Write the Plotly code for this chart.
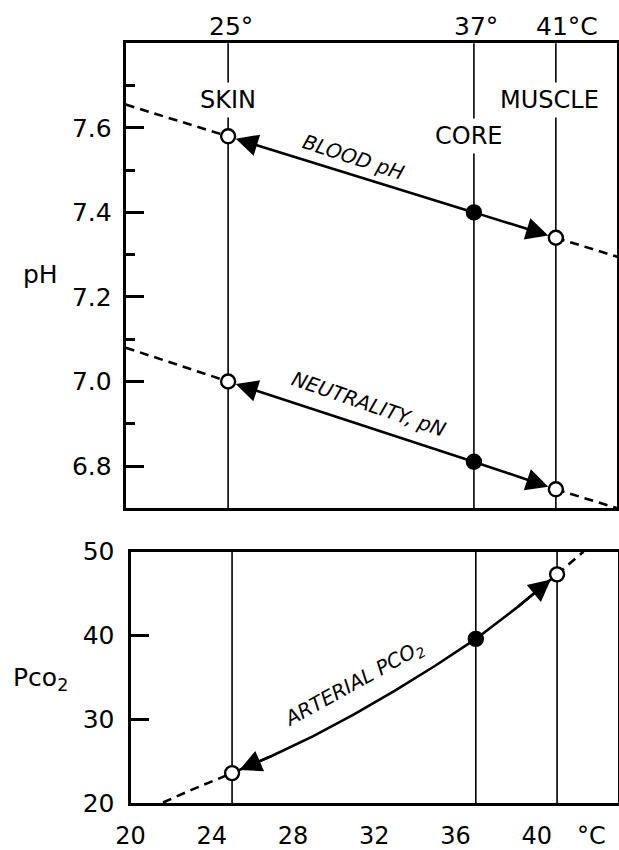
import plotly.graph_objects as go

# ---------------- data ----------------
site_names = ["SKIN", "CORE", "MUSCLE"]
site_temps = [25, 37, 41]
top_labels = ["25°", "37°", "41°C"]

# Blood pH
blood_t = [25, 37, 41]
blood_ph = [7.58, 7.40, 7.34]
blood_dash_left_t = [20, 25]
blood_dash_left = [7.655, 7.58]
blood_dash_right_t = [41, 44]
blood_dash_right = [7.34, 7.295]

# Neutrality pN
pn_t = [25, 37, 41]
pn = [7.00, 6.81, 6.745]
pn_dash_left_t = [20, 25]
pn_dash_left = [7.08, 7.00]
pn_dash_right_t = [41, 44]
pn_dash_right = [6.745, 6.70]

# Arterial PCO2
pco2_t = [25, 27, 29, 31, 33, 35, 37, 39, 41]
pco2 = [23.6, 25.7, 28.0, 30.6, 33.4, 36.4, 39.6, 43.3, 47.3]
pco2_dash_left_t = [21.6, 23, 25]
pco2_dash_left = [20.1, 21.6, 23.6]
pco2_dash_right_t = [41, 42.3]
pco2_dash_right = [47.3, 50.0]

x_ticks = [20, 24, 28, 32, 36, 40]
ph_ticks = [6.8, 7.0, 7.2, 7.4, 7.6]
ph_minor = [6.9, 7.1, 7.3, 7.5, 7.7]
pco2_ticks = [20, 30, 40, 50]

# ---------------- styles ----------------
FONT = "DejaVu Sans"
BLACK = "black"
LW = 2.6
DASH = "9px,6px"
marker_colors = ["white", "black", "white"]

fig = go.Figure()


def add_series(xs, ys, xa, ya, dash=None):
    fig.add_trace(go.Scatter(
        x=xs, y=ys, xaxis=xa, yaxis=ya, mode="lines",
        line=dict(color=BLACK, width=LW, dash=dash or "solid"),
        showlegend=False, hoverinfo="skip",
    ))


# top panel dashed extensions
add_series(blood_dash_left_t, blood_dash_left, "x", "y", dash=DASH)
add_series(blood_dash_right_t, blood_dash_right, "x", "y", dash=DASH)
add_series(pn_dash_left_t, pn_dash_left, "x", "y", dash=DASH)
add_series(pn_dash_right_t, pn_dash_right, "x", "y", dash=DASH)
# bottom panel dashed extensions + solid curve
add_series(pco2_dash_left_t, pco2_dash_left, "x2", "y2", dash=DASH)
add_series(pco2_dash_right_t, pco2_dash_right, "x2", "y2", dash=DASH)
add_series(pco2_t, pco2, "x2", "y2")

# markers (drawn last)
mk = dict(size=14, color=marker_colors, line=dict(color=BLACK, width=2.4))
for xs, ys in [(blood_t, blood_ph), (pn_t, pn)]:
    fig.add_trace(go.Scatter(x=xs, y=ys, xaxis="x", yaxis="y", mode="markers",
                             marker=mk, showlegend=False, hoverinfo="skip"))
pco2_site_vals = [pco2[pco2_t.index(t)] for t in site_temps]
fig.add_trace(go.Scatter(x=site_temps, y=pco2_site_vals, xaxis="x2", yaxis="y2", mode="markers",
                         marker=mk, showlegend=False, hoverinfo="skip"))

# vertical site lines
shapes = []
for t in site_temps:
    for xr, yr in [("x", "y domain"), ("x2", "y2 domain")]:
        shapes.append(dict(type="line", xref=xr, yref=yr, x0=t, x1=t, y0=0, y1=1,
                           line=dict(color=BLACK, width=1.6), layer="below"))

annotations = []


def arrow(xr, yr, hx, hy, tx, ty, standoff=8, startstandoff=0):
    annotations.append(dict(
        xref=xr, yref=yr, axref=xr, ayref=yr, x=hx, y=hy, ax=tx, ay=ty,
        text="", showarrow=True, arrowhead=2, arrowsize=1.7, arrowwidth=LW,
        arrowcolor=BLACK, standoff=standoff, startstandoff=startstandoff))


# straight arrows from core to skin and muscle
core_i = site_temps.index(37)
for ts, vs in [(blood_t, blood_ph), (pn_t, pn)]:
    for end in (0, 2):
        arrow("x", "y", ts[end], vs[end], ts[core_i], vs[core_i], standoff=8, startstandoff=6)
# curved PCO2 arrowheads
arrow("x2", "y2", pco2_t[0], pco2[0], pco2_t[1], pco2[1], standoff=8)
arrow("x2", "y2", pco2_t[-1], pco2[-1], pco2_t[-2], pco2[-2], standoff=8)

# site name labels (white background interrupts vertical lines)
site_label_y = [7.665, 7.58, 7.665]
site_label_shift = [0, -5, -6]
for name, t, yv, sh in zip(site_names, site_temps, site_label_y, site_label_shift):
    annotations.append(dict(xref="x", yref="y", x=t, y=yv, text=name, showarrow=False,
                            xshift=sh, bgcolor="white", borderpad=3,
                            xanchor="center", yanchor="middle",
                            font=dict(family=FONT, size=24, color=BLACK)))

# top temperature labels
top_shift = [3, 2, 11]
for lab, t, sh in zip(top_labels, site_temps, top_shift):
    annotations.append(dict(xref="x", yref="paper", x=t, y=1 - 27 / 850, text=lab,
                            showarrow=False, xshift=sh, xanchor="center", yanchor="middle",
                            font=dict(family=FONT, size=25, color=BLACK)))

# curve labels
ital = dict(family=FONT, size=20, color=BLACK, style="italic")
annotations.append(dict(xref="x", yref="y", x=31.1, y=7.532, text="BLOOD pH",
                        showarrow=False, textangle=18, font=ital,
                        xanchor="center", yanchor="middle"))
annotations.append(dict(xref="x", yref="y", x=31.85, y=6.946, text="NEUTRALITY, pN",
                        showarrow=False, textangle=19, font=ital,
                        xanchor="center", yanchor="middle"))
annotations.append(dict(xref="x2", yref="y2", x=31.0, y=34.2, text="ARTERIAL PCO<sub>2</sub>",
                        showarrow=False, textangle=-29, font=ital,
                        xanchor="center", yanchor="middle"))

# axis titles
annotations.append(dict(xref="paper", yref="paper", x=40 / 619, y=1 - 275 / 850, text="pH",
                        showarrow=False, xanchor="center", yanchor="middle",
                        font=dict(family=FONT, size=25, color=BLACK)))
annotations.append(dict(xref="paper", yref="paper", x=40 / 619, y=1 - 679 / 850,
                        text="Pco<sub>2</sub>", showarrow=False,
                        xanchor="center", yanchor="middle",
                        font=dict(family=FONT, size=25, color=BLACK)))
# °C unit on bottom axis
annotations.append(dict(xref="x2", yref="paper", x=42.7, y=1 - 836 / 850, text="°C",
                        showarrow=False, xanchor="center", yanchor="middle",
                        font=dict(family=FONT, size=24, color=BLACK)))

axis_common = dict(showline=True, linecolor=BLACK, linewidth=3, mirror=True,
                   showgrid=False, zeroline=False, automargin=False)
tickfont = dict(family=FONT, size=25, color=BLACK)

fig.update_layout(
    width=619, height=850,
    margin=dict(l=0, r=0, t=0, b=0, autoexpand=False),
    paper_bgcolor="white", plot_bgcolor="white",
    font=dict(family=FONT, size=25, color=BLACK),
    xaxis=dict(**axis_common, domain=[125.7 / 619, 617.3 / 619], range=[20, 44],
               anchor="y", showticklabels=False, ticks=""),
    yaxis=dict(**axis_common, domain=[1 - 508.3 / 850, 1 - 43.3 / 850], range=[6.70, 7.80],
               anchor="x", tickvals=ph_ticks, ticktext=[f"{v:.1f}" for v in ph_ticks],
               ticks="inside", ticklen=18, tickwidth=2.5, tickcolor=BLACK,
               ticklabelstandoff=6, tickfont=tickfont,
               minor=dict(tickvals=ph_minor, ticks="inside", ticklen=9, tickwidth=2.5,
                          tickcolor=BLACK)),
    xaxis2=dict(**axis_common, domain=[130.5 / 619, 618 / 619], range=[20, 44],
                anchor="y2", tickvals=x_ticks, ticks="", ticklabelstandoff=9,
                tickfont=dict(family=FONT, size=24, color=BLACK)),
    yaxis2=dict(**axis_common, domain=[1 - 803.3 / 850, 1 - 551.7 / 850], range=[20, 50],
                anchor="x2", tickvals=pco2_ticks, ticks="inside", ticklen=18,
                tickwidth=2.5, tickcolor=BLACK, ticklabelstandoff=8, tickfont=tickfont),
    shapes=shapes,
    annotations=annotations,
)

fig.write_html("out.html", config={"displayModeBar": False},
               post_script="document.body.style.margin='0px';document.body.style.overflow='hidden';")
